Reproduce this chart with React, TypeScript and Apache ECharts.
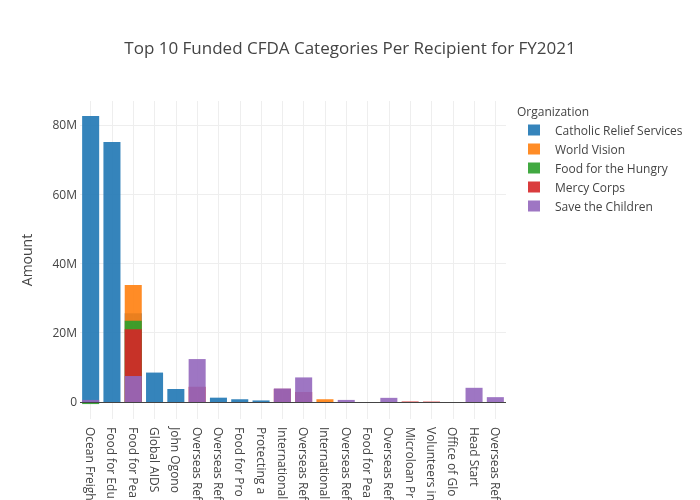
import React, { useEffect, useRef } from "react";
import * as echarts from "echarts";

// Category names (CFDA programs)
const categories = [
  "Ocean Freight Reimbursement Program",
  "Food for Education",
  "Food for Peace Emergency Program (EP)",
  "Global AIDS",
  "John Ogonowski Farmer-to-Farmer Program",
  "Overseas Refugee Assistance Programs for Africa",
  "Overseas Refugee Assistance Programs for East Asia",
  "Food for Progress",
  "Protecting and Improving Health Globally",
  "International Programs to Combat Human Trafficking",
  "Overseas Refugee Assistance Programs for Near East and South Asia",
  "International Research and Studies",
  "Overseas Refugee Assistance Programs for Western Hemisphere",
  "Food for Peace Development Assistance Program (DAP)",
  "Overseas Refugee Assistance Programs for Europe",
  "Microloan Program",
  "Volunteers in Service to America",
  "Office of Global Affairs",
  "Head Start",
  "Overseas Refugee Assistance Program for Strategic Global Priorities",
];

// Amounts in millions of dollars
const catholicReliefServices = [82.6, 75.1, 25.6, 8.5, 3.75, 0, 1.25, 0.8, 0.45, 0, 0, 0, 0, 0, 0, 0, 0, 0, 0, 0];
const worldVision = [0, 0, 33.8, 0, 0, 0, 0, 0, 0, 0, 0, 0.8, 0, 0, 0, 0, 0, 0, 0, 0];
const foodForTheHungry = [-0.6, 0, 23.5, 0, 0, 0, 0, 0, 0, 0, 0, 0, 0, 0, 0, 0, 0, 0, 0, 0];
const mercyCorps = [0, 0, 21.0, 0, 0, 4.4, 0, 0, 0, 3.8, 2.9, 0, 0, 0, 0, 0.15, 0.12, 0, 0, 0];
const saveTheChildren = [0.6, 0, 7.5, 0, 0, 12.4, 0, 0, 0, 3.9, 7.1, 0, 0.6, 0, 1.2, 0, 0, 0, 4.1, 1.4];

const seriesNames = ["Catholic Relief Services", "World Vision", "Food for the Hungry", "Mercy Corps", "Save the Children"];
const seriesValues = [catholicReliefServices, worldVision, foodForTheHungry, mercyCorps, saveTheChildren];
const seriesColors = ["#1f77b4", "#ff7f0e", "#2ca02c", "#d62728", "#9467bd"];
const yTicks = [0, 20, 40, 60, 80];

const FONT = "'Open Sans', 'Noto Sans', sans-serif";

export default function App() {
  const ref = useRef<HTMLDivElement>(null);
  useEffect(() => {
    if (!ref.current) return;
    const chart = echarts.init(ref.current, undefined, { renderer: "svg" });
    const series: any[] = seriesNames.map((name, i) => ({
      name,
      type: "bar",
      data: seriesValues[i],
      barWidth: "80%",
      barGap: "-100%",
      itemStyle: { color: seriesColors[i], opacity: 0.9 },
      emphasis: { disabled: true },
    }));
    series[series.length - 1].markLine = {
      silent: true,
      symbol: "none",
      label: { show: false },
      lineStyle: { color: "#444", width: 1, type: "solid" },
      data: [{ yAxis: 0 }],
    };
    chart.setOption({
      animation: false,
      textStyle: { fontFamily: FONT },
      title: {
        text: "Top 10 Funded CFDA Categories Per Recipient for FY2021",
        left: "center",
        top: 34,
        textStyle: { fontSize: 17, fontWeight: "normal", color: "#444", fontFamily: FONT },
      },
      legend: {
        orient: "vertical",
        left: 523,
        top: 118,
        icon: "rect",
        itemWidth: 12,
        itemHeight: 11,
        itemGap: 5,
        data: seriesNames,
        textStyle: { fontSize: 12, color: "#444", fontFamily: FONT, lineHeight: 14, padding: [0, 0, 0, 10] },
      },
      graphic: [
        {
          type: "text",
          left: 517,
          top: 105,
          style: { text: "Organization", fontSize: 12, fill: "#444", fontFamily: FONT },
        },
        {
          type: "text",
          x: 26,
          y: 260,
          rotation: Math.PI / 2,
          style: { text: "Amount", fontSize: 14, fill: "#444", fontFamily: FONT, align: "center", verticalAlign: "middle" },
        },
      ],
      grid: { left: 80, right: 194, top: 101, bottom: 81, containLabel: false, outerBoundsMode: "none" },
      xAxis: {
        type: "category",
        data: categories,
        axisLine: { show: false },
        axisTick: { show: false },
        axisLabel: {
          rotate: -90,
          interval: 0,
          margin: 8,
          fontSize: 12,
          color: "#444",
          fontFamily: FONT,
          width: 76,
          overflow: "truncate",
          ellipsis: "",
        },
        splitLine: { show: true, alignWithLabel: true, lineStyle: { color: "#eee", width: 1 } },
      },
      yAxis: {
        type: "value",
        min: -4.91,
        max: 86.93,
        axisLine: { show: false },
        axisTick: { show: false, customValues: yTicks },
        axisLabel: {
          customValues: yTicks,
          margin: 3,
          fontSize: 12,
          color: "#444",
          fontFamily: FONT,
          formatter: (v: number) => (v === 0 ? "0" : v + "M"),
        },
        splitLine: { show: true, lineStyle: { color: "#eee", width: 1 } },
      },
      series,
    });
    return () => chart.dispose();
  }, []);
  return <div ref={ref} style={{ position: "fixed", left: 0, top: 0, width: 700, height: 500 }} />;
}
